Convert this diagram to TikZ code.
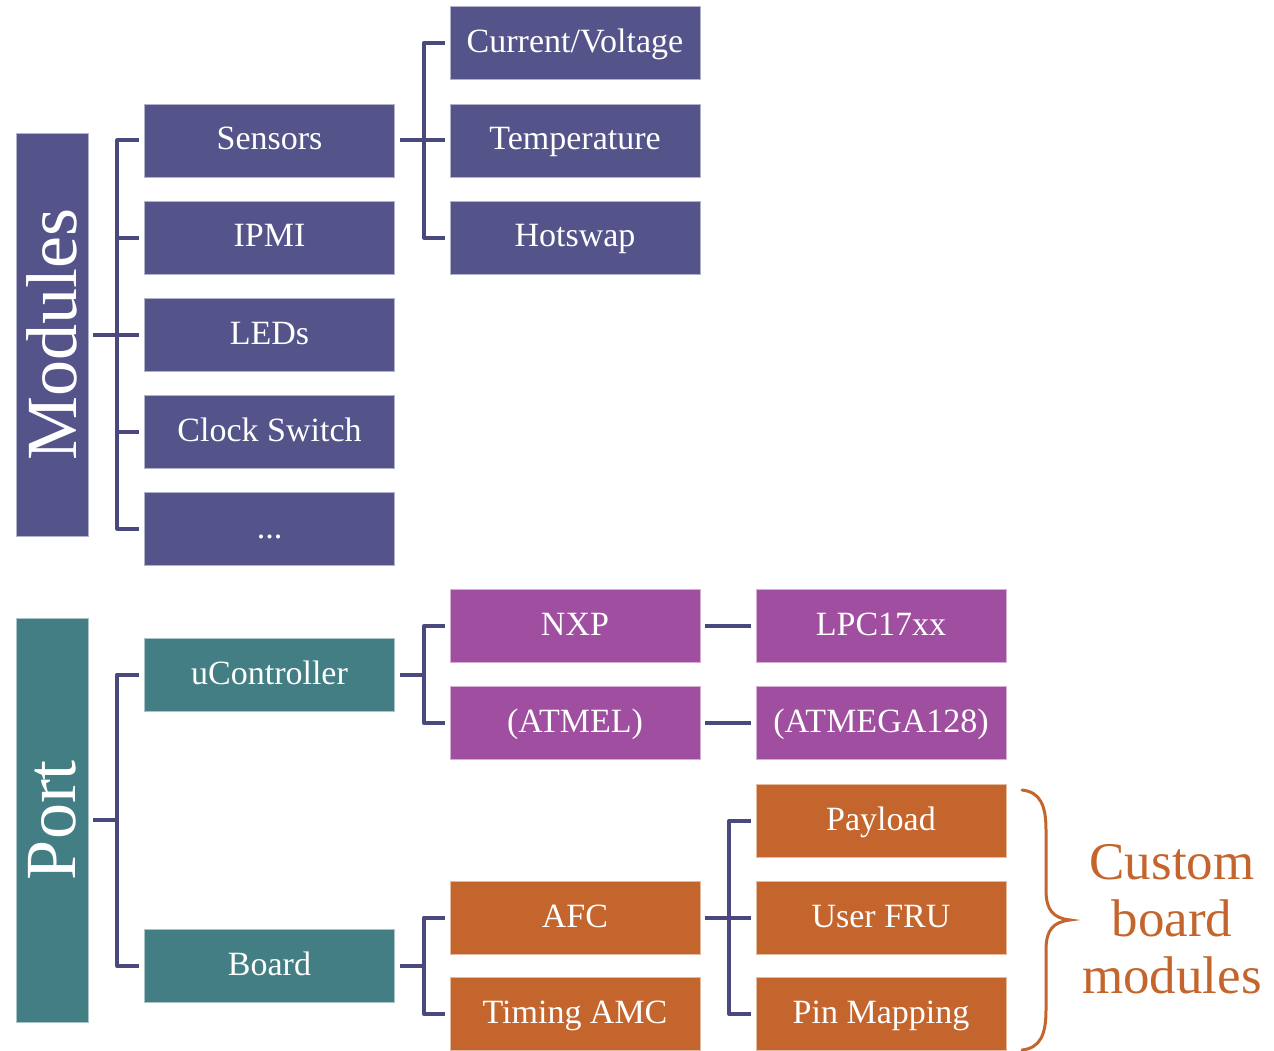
\documentclass[tikz,border=0pt]{standalone}
\usepackage{fontspec}
\setmainfont{Liberation Serif}
\definecolor{modc}{RGB}{85,84,138}
\definecolor{portc}{RGB}{67,126,132}
\definecolor{mcuc}{RGB}{160,78,160}
\definecolor{brdc}{RGB}{195,101,45}
\definecolor{linec}{RGB}{74,73,126}
\begin{document}
\begin{tikzpicture}[x=1pt,y=-1pt,
  box/.style={rectangle, minimum width=250pt, minimum height=73pt, inner sep=0pt,
    text=white, font=\fontsize{34}{40}\selectfont, text height=25pt, text depth=6pt,
    draw=white!55!#1, line width=0.8pt, fill=#1},
  rootbox/.style={rectangle, rotate=90, minimum height=72pt, inner sep=0pt,
    text=white, font=\fontsize{72}{80}\selectfont, fill=#1, draw=white!55!#1, line width=0.8pt},
  conn/.style={draw=linec, line width=4pt, line join=round}]
\useasboundingbox (0,0) rectangle (1274,1051);

% roots
\node[rootbox=modc, minimum width=403pt] (mod) at (52,334.5) {Modules};
\node[rootbox=portc, minimum width=404pt] (port) at (52,820) {Port};

% Modules column 1
\node[box=modc] (sens) at (269.5,140.5) {Sensors};
\node[box=modc] (ipmi) at (269.5,237.5) {IPMI};
\node[box=modc] (leds) at (269.5,334.5) {LEDs};
\node[box=modc] (clk) at (269.5,431.5) {Clock Switch};
\node[box=modc] (dots) at (269.5,528.5) {...};

% Sensors children
\node[box=modc] (cv) at (575,43) {Current/Voltage};
\node[box=modc] (temp) at (575,140.5) {Temperature};
\node[box=modc] (hs) at (575,237.5) {Hotswap};

% Port column 1
\node[box=portc] (uc) at (269.5,674.5) {uController};
\node[box=portc] (board) at (269.5,966) {Board};

% uController children
\node[box=mcuc] (nxp) at (575,626) {NXP};
\node[box=mcuc] (atmel) at (575,723) {(ATMEL)};
\node[box=mcuc] (lpc) at (881,626) {LPC17xx};
\node[box=mcuc] (atmega) at (881,723) {(ATMEGA128)};

% Board children
\node[box=brdc] (afc) at (575,917.5) {AFC};
\node[box=brdc] (tamc) at (575,1014) {Timing AMC};
\node[box=brdc] (pay) at (881,820.5) {Payload};
\node[box=brdc] (fru) at (881,917.5) {User FRU};
\node[box=brdc] (pin) at (881,1014) {Pin Mapping};

% connectors: Modules
\draw[conn] ([xshift=5pt]mod.south) -- ([xshift=29pt]mod.south);
\foreach \c in {sens,ipmi,leds,clk,dots}
  \draw[conn] ([xshift=29pt]mod.south) |- ([xshift=-5pt]\c.west);
% Sensors
\draw[conn] ([xshift=5pt]sens.east) -- ([xshift=29pt]sens.east);
\foreach \c in {cv,temp,hs}
  \draw[conn] ([xshift=29pt]sens.east) |- ([xshift=-5pt]\c.west);
% Port
\draw[conn] ([xshift=5pt]port.south) -- ([xshift=29pt]port.south);
\foreach \c in {uc,board}
  \draw[conn] ([xshift=29pt]port.south) |- ([xshift=-5pt]\c.west);
% uController
\draw[conn] ([xshift=5pt]uc.east) -- ([xshift=29pt]uc.east);
\foreach \c in {nxp,atmel}
  \draw[conn] ([xshift=29pt]uc.east) |- ([xshift=-5pt]\c.west);
\draw[conn] ([xshift=5pt]nxp.east) -- ([xshift=-5pt]lpc.west);
\draw[conn] ([xshift=5pt]atmel.east) -- ([xshift=-5pt]atmega.west);
% Board
\draw[conn] ([xshift=5pt]board.east) -- ([xshift=29pt]board.east);
\foreach \c in {afc,tamc}
  \draw[conn] ([xshift=29pt]board.east) |- ([xshift=-5pt]\c.west);
% AFC
\draw[conn] ([xshift=5pt]afc.east) -- ([xshift=29pt]afc.east);
\foreach \c in {pay,fru,pin}
  \draw[conn] ([xshift=29pt]afc.east) |- ([xshift=-5pt]\c.west);

% brace
\draw[brdc, line width=3pt, line cap=round]
  (1022,790) .. controls (1040,792) and (1046,805) .. (1046,830)
  -- (1046,890) .. controls (1046,910) and (1053,918) .. (1070,920)
  .. controls (1053,922) and (1046,930) .. (1046,950)
  -- (1046,1010) .. controls (1046,1035) and (1040,1048) .. (1022,1050);

\node[text=brdc, align=center, font=\fontsize{53}{57}\selectfont] (cbm) at (1172,919) {Custom\\board\\modules};
\end{tikzpicture}
\end{document}
